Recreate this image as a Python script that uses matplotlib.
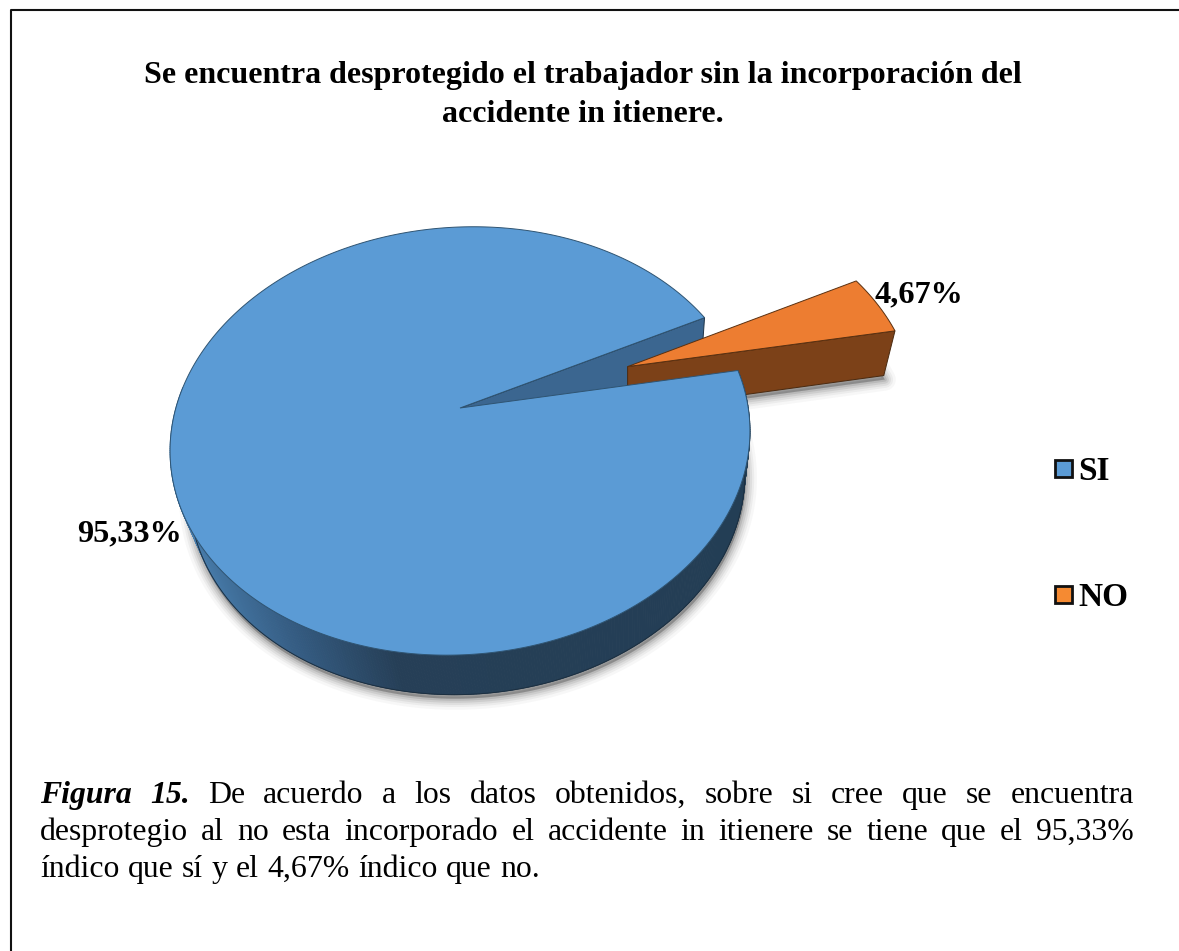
import matplotlib
matplotlib.use("Agg")
import matplotlib.pyplot as plt
from matplotlib.colors import to_rgb
from matplotlib.patches import Rectangle
import numpy as np

title_lines = ["Se encuentra desprotegido el trabajador sin la incorporación del",
               "accidente in itienere."]
categories = ["SI", "NO"]
values = [95.33, 4.67]
label_pos = [(129.5, 534), (918.5, 295)]
caption_bold = "Figura 15."
caption_1 = "De acuerdo a los datos obtenidos, sobre si cree que se encuentra"
caption_2 = "desprotegio al no esta incorporado el accidente in itienere se tiene que el 95,33%"
caption_3 = "índico que sí y el 4,67% índico que no."

BLUE, ORANGE = "#5b9bd5", "#ed7d31"
BROWN, WALL = "#7c4118", "#3b6690"
SERIF = "Liberation Serif"
plt.rcParams["font.family"] = SERIF

# pie geometry in pixels, fitted to the picture
cx, cy, rx, ry, k = 460, 408, 286.5, 208.9, -0.154
shear = -0.034
start = -24.7
explode = 0.626


def project(u, v, lower=False):
    # circle in the pie plane -> screen, with a bit of perspective and tilt
    w = 1 + k * v
    x = cx + rx * u / w
    y = cy + ry * v / w + shear * (rx * u / w)
    if lower:
        x = 628 + 0.958 * (x - 628)
        y = 50 + 0.984 * y
    return x, y


def arc(a0, a1, n=300):
    a = np.radians(np.linspace(a0, a1, n))
    return np.cos(a), np.sin(a)


def soft_shadow(ax, x, y, z):
    for lw, al in zip([16, 12, 9, 6, 3], [0.04, 0.06, 0.08, 0.10, 0.14]):
        ax.fill(x + 1, y + 4, color="#404040", alpha=al, lw=lw, joinstyle="round", zorder=z)


fig = plt.figure(figsize=(11.79, 9.51), dpi=100)
ax = fig.add_axes([0, 0, 1, 1])
ax.set_xlim(0, 1179)
ax.set_ylim(951, 0)
ax.axis("off")

# frame, only left and top are in the picture
ax.plot([10.5, 10.5, 1179], [951, 10, 10], color="#111111", lw=1.5, zorder=1)

span = 360 * values[1] / sum(values)
mid = np.radians(start + span / 2)
du, dv = explode * np.cos(mid), explode * np.sin(mid)

# blue slice
bu, bv = arc(start + span, start + 360, 700)
bx, by = project(bu, bv)
lx, ly = project(bu, bv, True)
wx, wy = project(np.r_[0, bu], np.r_[0, bv])
soft_shadow(ax, lx, ly, 2)

# cut face of the blue slice that can be seen behind the orange one
su, sv = np.cos(np.radians(start)), np.sin(np.radians(start))
fx0, fy0 = project(np.array([0, su]), np.array([0, sv]))
fx1, fy1 = project(np.array([su, 0]), np.array([sv, 0]), True)
ax.fill(np.r_[fx0, fx1], np.r_[fy0, fy1], color=WALL, ec="#1f3447", lw=0.7, zorder=3)

# orange slice
ou, ov = arc(start, start + span, 60)
ou2, ov2 = np.r_[0, ou] + du, np.r_[0, ov] + dv
ox, oy = project(ou2, ov2)
olx, oly = project(ou2, ov2, True)
soft_shadow(ax, olx, oly, 2.5)
ax.fill(np.r_[ox[0], ox[-1], olx[-1], olx[0]], np.r_[oy[0], oy[-1], oly[-1], oly[0]],
        color=BROWN, ec="#4a2a10", lw=0.7, zorder=4)
ax.fill(ox, oy, color=ORANGE, ec="#5a3010", lw=0.7, zorder=5)

# outer wall of the blue slice, shaded from left to right, front part only
stops_x = [185, 300, 400, 760]
stops_c = np.array([to_rgb(c) for c in ["#4a80b0", "#345b81", "#263f57", "#233e55"]])
front = np.where(bv >= -0.15)[0]
for i in front[:-1]:
    xm = (bx[i] + lx[i]) / 2
    col = [np.interp(xm, stops_x, stops_c[:, j]) for j in range(3)]
    ax.fill([bx[i], bx[i + 1], lx[i + 1], lx[i]], [by[i], by[i + 1], ly[i + 1], ly[i]],
            color=col, lw=0.6, zorder=6)
ax.plot(lx[front], ly[front], color="#1c2f40", lw=0.7, zorder=6.5)
ax.fill(wx, wy, color=BLUE, ec="#2f5472", lw=0.7, zorder=7)

# title
ax.text(583, 83, title_lines[0], ha="center", va="baseline", fontsize=23, fontweight="bold", zorder=10)
ax.text(583, 122, title_lines[1], ha="center", va="baseline", fontsize=23, fontweight="bold", zorder=10)

# data labels
for v, (tx, ty) in zip(values, label_pos):
    ax.text(tx, ty, f"{v:.2f}%".replace(".", ","), ha="center", va="center",
            fontsize=23.2, fontweight="bold", zorder=10)

# legend
for name, col, ly0 in zip(categories, [BLUE, "#f58a32"], [468, 594.5]):
    ax.add_patch(Rectangle((1054.5, ly0 - 8.5), 17, 17, fc=col, ec="#111111", lw=2, zorder=10))
    ax.text(1078, ly0 + 3, name, ha="left", va="center", fontsize=24, fontweight="bold", zorder=10)

# caption, justified by hand word by word
renderer = fig.canvas.get_renderer()
CAP = 22.9


def justify(words, y, x0, x1, styles):
    items = [ax.text(0, y, w, fontsize=CAP, va="baseline", zorder=10, **s) for w, s in zip(words, styles)]
    inv = ax.transData.inverted()
    widths = []
    for t in items:
        b = t.get_window_extent(renderer)
        widths.append(inv.transform((b.x1, 0))[0] - inv.transform((b.x0, 0))[0])
    gap = (x1 - x0 - sum(widths)) / (len(words) - 1)
    x = x0
    for t, wd in zip(items, widths):
        t.set_x(x)
        x += wd + gap


bold_it = {"fontweight": "bold", "fontstyle": "italic"}
w1 = caption_bold.split() + caption_1.split()
justify(w1, 803, 40, 1134, [bold_it, bold_it] + [{}] * len(caption_1.split()))
w2 = caption_2.split()
justify(w2, 840, 40, 1134, [{}] * len(w2))
w3 = caption_3.split()
justify(w3, 877, 40, 540, [{}] * len(w3))

fig.savefig("out.png", dpi=100)
